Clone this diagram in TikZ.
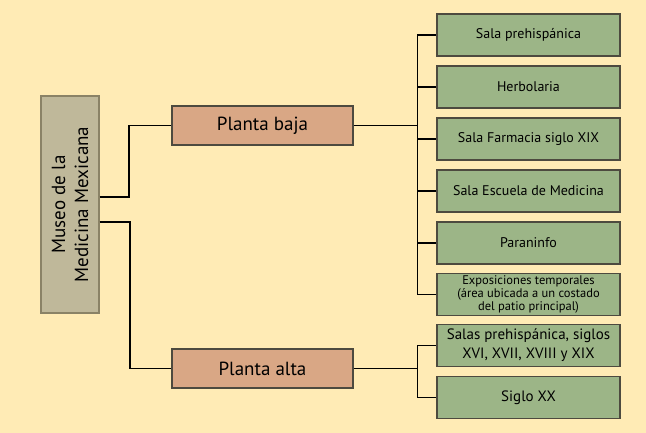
\documentclass[tikz,border=0pt]{standalone}
\usepackage{fontspec}
\setmainfont{PT Sans}
\definecolor{bg}{HTML}{FFEBB5}
\definecolor{rootfill}{HTML}{BFB89A}
\definecolor{rootdraw}{HTML}{8A8266}
\definecolor{midfill}{HTML}{D9A785}
\definecolor{leaffill}{HTML}{9CB587}
\definecolor{boxdraw}{HTML}{4D4A3F}
\begin{document}
\begin{tikzpicture}[x=1pt,y=-1pt,
  rootbox/.style={draw=rootdraw,line width=1.2pt,fill=rootfill,minimum width=58pt,minimum height=217pt,inner sep=0pt},
  midbox/.style={draw=boxdraw,line width=1.2pt,fill=midfill,minimum width=181pt,minimum height=39pt,inner sep=0pt,font=\fontsize{19}{22}\selectfont},
  leafbox/.style={draw=boxdraw,line width=1.2pt,fill=leaffill,minimum width=183pt,minimum height=42pt,inner sep=0pt,align=center,font=\fontsize{14}{17}\selectfont},
  link/.style={draw=black,line width=1.2pt}]
\fill[bg] (0,0) rectangle (646,433);
\useasboundingbox (0,0) rectangle (646,433);
\node[rootbox] (root) at (70,204.5) {};
\node[rotate=90,align=center,font=\fontsize{19}{23}\selectfont] (roottxt) at (70,204.5) {Museo de la\\Medicina Mexicana};
\node[midbox] (pb) at (262.5,125.5) {Planta baja};
\node[midbox] (pa) at (262.5,368.5) {Planta alta};
\node[leafbox] (l1) at (528.5,35) {Sala prehispánica};
\node[leafbox] (l2) at (528.5,87) {Herbolaria};
\node[leafbox] (l3) at (528.5,139) {Sala Farmacia siglo XIX};
\node[leafbox] (l4) at (528.5,191) {Sala Escuela de Medicina};
\node[leafbox] (l5) at (528.5,243) {Paraninfo};
\node[leafbox,font=\fontsize{12.5}{13}\selectfont] (l6) at (528.5,294.5) {Exposiciones temporales\\(área ubicada a un costado\\del patio principal)};
\node[leafbox,font=\fontsize{15}{19}\selectfont] (l7) at (528.5,345.5) {Salas prehispánica, siglos\\XVI, XVII, XVIII y XIX};
\node[leafbox,font=\fontsize{15}{18}\selectfont] (l8) at (528.5,397.5) {Siglo XX};
\coordinate (r1) at (root.east |- 0,197);
\coordinate (r2) at (root.east |- 0,222);
\draw[link] (r1) -- (129,197) |- (pb.west);
\draw[link] (r2) -- (130,222) |- (pa.west);
\coordinate (jb) at (417.5,125.5);
\coordinate (ja) at (417.5,368.5);
\draw[link] (pb.east) -- (jb);
\draw[link] (pa.east) -- (ja);
\foreach \n in {l1,l2,l3,l4,l5,l6} \draw[link] (jb) |- (\n.west);
\foreach \n in {l7,l8} \draw[link] (ja) |- (\n.west);
\end{tikzpicture}
\end{document}
